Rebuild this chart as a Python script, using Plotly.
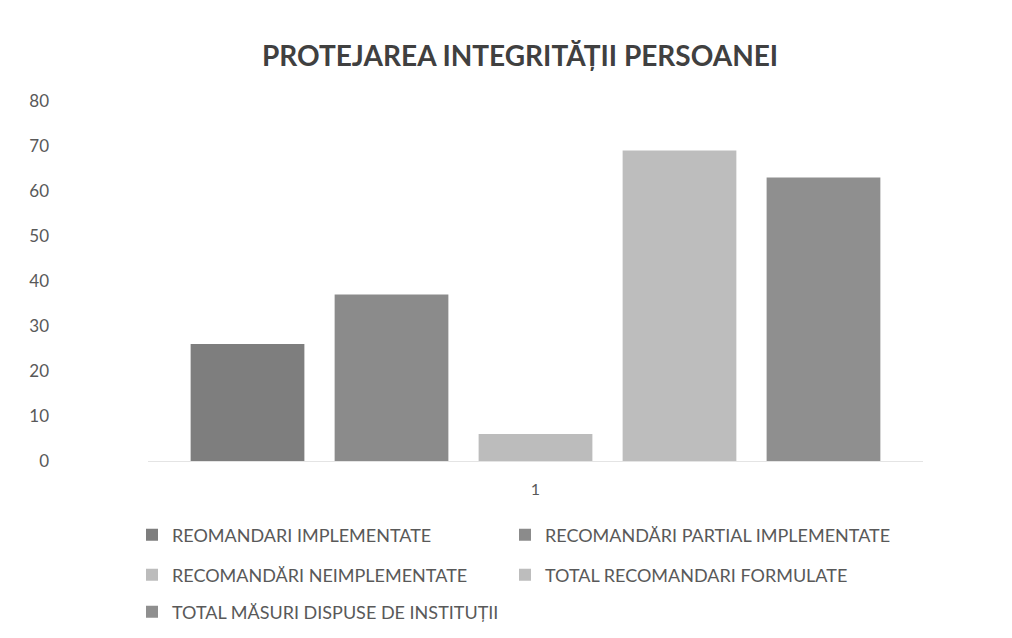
import plotly.graph_objects as go

categories = ["1"]
series_names = [
    "REOMANDARI IMPLEMENTATE",
    "RECOMANDĂRI PARTIAL IMPLEMENTATE",
    "RECOMANDĂRI NEIMPLEMENTATE",
    "TOTAL RECOMANDARI FORMULATE",
    "TOTAL MĂSURI DISPUSE DE INSTITUȚII",
]
series_values = [[26], [37], [6], [69], [63]]
series_colors = ["#7e7e7e", "#8b8b8b", "#bcbcbc", "#bdbdbd", "#8f8f8f"]
series_legend = ["legend", "legend2", "legend3", "legend4", "legend5"]
y_ticks = [0, 10, 20, 30, 40, 50, 60, 70, 80]

FONT = "Lato"
fig = go.Figure()
for name, vals, col, lg in zip(series_names, series_values, series_colors, series_legend):
    fig.add_trace(go.Bar(x=categories, y=vals, name=name, marker=dict(color=col, line=dict(width=0)),
                         legend=lg, showlegend=True))

legend_common = dict(orientation="h", xref="container", yref="container", xanchor="left", yanchor="middle",
                     font=dict(family=FONT, size=18, color="#595959"), visible=True,
                     bgcolor="rgba(0,0,0,0)", itemclick=False)

col1, col2 = 124 / 1012, 497 / 1012
row1, row2, row3 = 1 - 527 / 638, 1 - 567 / 638, 1 - 604 / 638

fig.update_layout(
    width=1012, height=638, showlegend=True,
    paper_bgcolor="white", plot_bgcolor="white",
    margin=dict(l=140, r=97, t=93, b=185, autoexpand=False),
    barmode="group", bargap=0.071, bargroupgap=0.21,
    title=dict(text="<b>PROTEJAREA INTEGRITĂȚII PERSOANEI</b>", x=0.506, xanchor="center", y=1 - 48 / 638,
               yanchor="middle", font=dict(family=FONT, size=28, color="#404040")),
    font=dict(family=FONT, color="#595959"),
    legend=dict(x=col1, y=row1, **legend_common),
    legend2=dict(x=col2, y=row1, **legend_common),
    legend3=dict(x=col1, y=row2, **legend_common),
    legend4=dict(x=col2, y=row2, **legend_common),
    legend5=dict(x=col1, y=row3, **legend_common),
    xaxis=dict(type="category", showgrid=False, showline=False, ticks="", ticklabelstandoff=17,
               tickfont=dict(family=FONT, size=16, color="#595959")),
    yaxis=dict(range=[0, 80], tickvals=y_ticks, showgrid=False, zeroline=True, zerolinecolor="#e4e4e4",
               zerolinewidth=1, showline=False, ticks="", ticklabelstandoff=98,
               tickfont=dict(family=FONT, size=17, color="#595959")),
)

fig.write_html("out.html")
